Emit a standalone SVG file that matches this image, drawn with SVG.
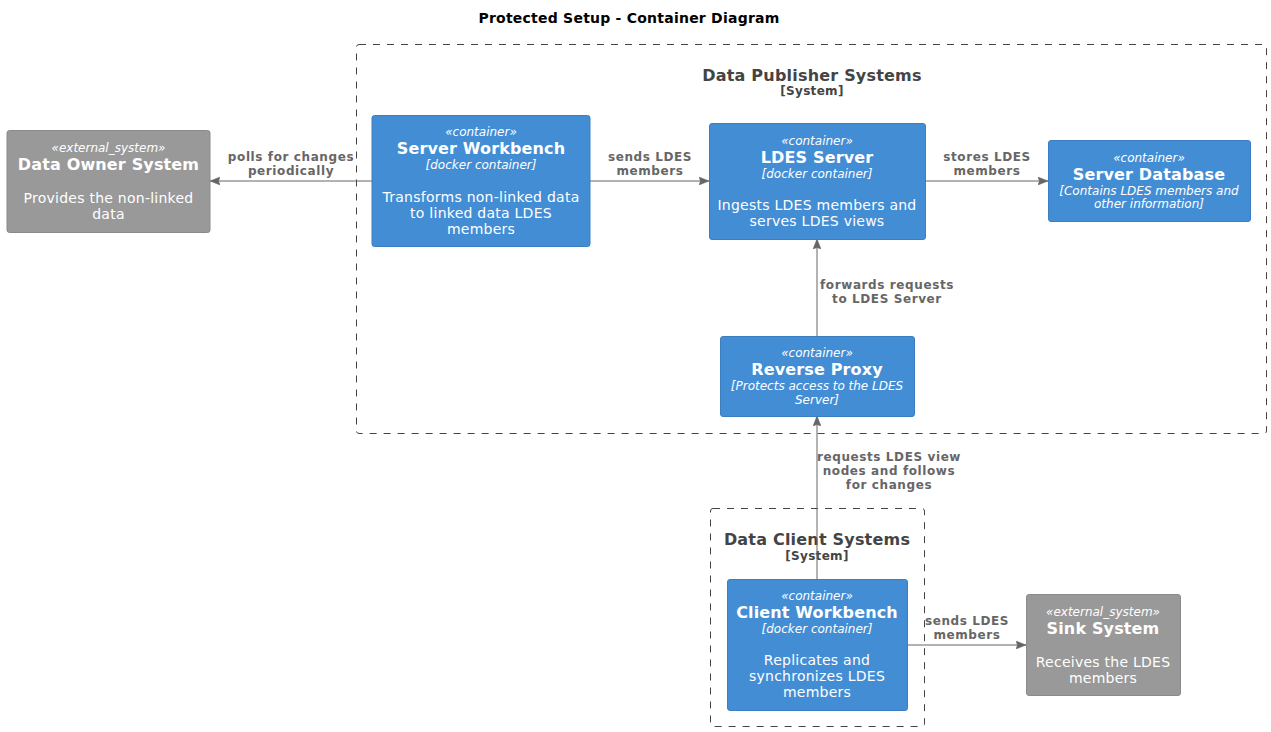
<svg xmlns="http://www.w3.org/2000/svg" width="1271" height="732" viewBox="0 0 1271 732">
<style>
text{font-family:"DejaVu Sans",sans-serif;text-anchor:middle}
.title{font-size:14px;font-weight:bold;fill:#000;letter-spacing:0.23px}
.bnd{fill:none;stroke:#444444;stroke-width:1;stroke-dasharray:7,7}
.bt{font-size:16px;font-weight:bold;fill:#444444;letter-spacing:0.2px}
.bs{font-size:12px;font-weight:bold;fill:#444444;letter-spacing:0.3px}
.cont{fill:#438DD5;stroke:#3C7FC0;stroke-width:1}
.ext{fill:#999999;stroke:#8A8A8A;stroke-width:1}
.st{font-size:12px;font-style:italic;fill:#fff}
.nm{font-size:16px;font-weight:bold;fill:#fff;letter-spacing:0.15px}
.ds{font-size:14px;fill:#fff;letter-spacing:0.25px}
.ln{stroke:#666666;stroke-width:1;fill:none}
.lb{font-size:12px;font-weight:bold;fill:#666666;letter-spacing:0.6px}
</style>
<defs>
<marker id="ah" markerWidth="10" markerHeight="8" refX="10" refY="4" orient="auto" markerUnits="userSpaceOnUse">
<path d="M0,0 L10,4 L0,8 L1.5,4 Z" fill="#666666" stroke="#666666" stroke-width="0.5"/>
</marker>
</defs>
<text class="title" x="629" y="23">Protected Setup - Container Diagram</text>
<g id="publisher-boundary">
<rect class="bnd" x="356.5" y="44.5" width="910" height="389" rx="2.5"/>
<text class="bt" x="812" y="81">Data Publisher Systems</text>
<text class="bs" x="812" y="95">[System]</text>
</g>
<g id="client-boundary">
<rect class="bnd" x="710.5" y="508.5" width="214" height="218" rx="2.5"/>
<text class="bt" x="817" y="545">Data Client Systems</text>
<text class="bs" x="817" y="560">[System]</text>
</g>
<g id="connectors">
<line class="ln" x1="372" y1="181" x2="210" y2="181" marker-end="url(#ah)"/>
<text class="lb" x="291" y="161">polls for changes</text>
<text class="lb" x="291" y="175">periodically</text>
<line class="ln" x1="590" y1="181" x2="709" y2="181" marker-end="url(#ah)"/>
<text class="lb" x="650" y="161">sends LDES</text>
<text class="lb" x="650" y="175">members</text>
<line class="ln" x1="925" y1="181" x2="1048" y2="181" marker-end="url(#ah)"/>
<text class="lb" x="987" y="161">stores LDES</text>
<text class="lb" x="987" y="175">members</text>
<line class="ln" x1="817" y1="336" x2="817" y2="239" marker-end="url(#ah)"/>
<text class="lb" x="887" y="289">forwards requests</text>
<text class="lb" x="887" y="303">to LDES Server</text>
<line class="ln" x1="817" y1="579" x2="817" y2="416" marker-end="url(#ah)"/>
<text class="lb" x="889" y="461">requests LDES view</text>
<text class="lb" x="889" y="475">nodes and follows</text>
<text class="lb" x="889" y="489">for changes</text>
<line class="ln" x1="908" y1="645" x2="1026" y2="645" marker-end="url(#ah)"/>
<text class="lb" x="967" y="625">sends LDES</text>
<text class="lb" x="967" y="639">members</text>
</g>
<g id="data-owner-system">
<rect class="ext" x="7" y="130.5" width="203" height="102" rx="2.5"/>
<text class="st" x="108.5" y="152">«external_system»</text>
<text class="nm" x="108.5" y="170">Data Owner System</text>
<text class="ds" x="108.5" y="203">Provides the non-linked</text>
<text class="ds" x="108.5" y="219">data</text>
</g>
<g id="server-workbench">
<rect class="cont" x="372" y="115.5" width="218" height="131" rx="2.5"/>
<text class="st" x="481" y="136">«container»</text>
<text class="nm" x="481" y="154">Server Workbench</text>
<text class="st" x="481" y="169">[docker container]</text>
<text class="ds" x="481" y="202">Transforms non-linked data</text>
<text class="ds" x="481" y="218">to linked data LDES</text>
<text class="ds" x="481" y="234">members</text>
</g>
<g id="ldes-server">
<rect class="cont" x="709.5" y="123.5" width="216" height="116" rx="2.5"/>
<text class="st" x="817" y="145">«container»</text>
<text class="nm" x="817" y="163">LDES Server</text>
<text class="st" x="817" y="178">[docker container]</text>
<text class="ds" x="817" y="210">Ingests LDES members and</text>
<text class="ds" x="817" y="226">serves LDES views</text>
</g>
<g id="server-database">
<rect class="cont" x="1048.5" y="140.5" width="202" height="81" rx="2.5"/>
<text class="st" x="1149" y="162">«container»</text>
<text class="nm" x="1149" y="180">Server Database</text>
<text class="st" x="1149" y="195">[Contains LDES members and</text>
<text class="st" x="1149" y="208">other information]</text>
</g>
<g id="reverse-proxy">
<rect class="cont" x="720.5" y="336.5" width="194" height="80" rx="2.5"/>
<text class="st" x="817" y="357">«container»</text>
<text class="nm" x="817" y="375">Reverse Proxy</text>
<text class="st" x="817" y="390">[Protects access to the LDES</text>
<text class="st" x="817" y="404">Server]</text>
</g>
<g id="client-workbench">
<rect class="cont" x="727.5" y="579.5" width="180" height="131" rx="2.5"/>
<text class="st" x="817" y="600">«container»</text>
<text class="nm" x="817" y="618">Client Workbench</text>
<text class="st" x="817" y="633">[docker container]</text>
<text class="ds" x="817" y="665">Replicates and</text>
<text class="ds" x="817" y="681">synchronizes LDES</text>
<text class="ds" x="817" y="697">members</text>
</g>
<g id="sink-system">
<rect class="ext" x="1026.5" y="594.5" width="154" height="101" rx="2.5"/>
<text class="st" x="1103" y="616">«external_system»</text>
<text class="nm" x="1103" y="634">Sink System</text>
<text class="ds" x="1103" y="667">Receives the LDES</text>
<text class="ds" x="1103" y="683">members</text>
</g>
</svg>
